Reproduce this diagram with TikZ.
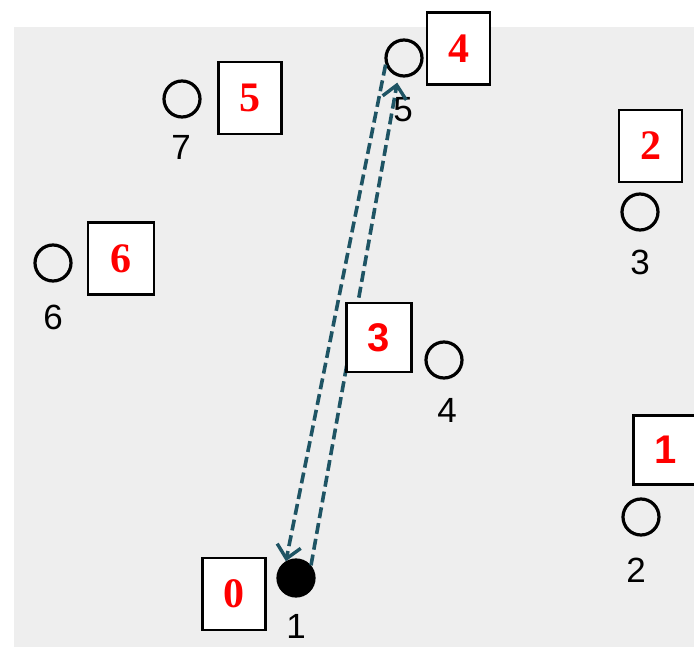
\documentclass[tikz,border=0pt]{standalone}
\usepackage{fontspec}
\setmainfont{Liberation Serif}
\setsansfont{Liberation Sans}
\usetikzlibrary{arrows.meta}
\definecolor{bgpaper}{RGB}{238,238,238}
\definecolor{teal2}{RGB}{30,84,100}
\tikzset{
  pt/.style={circle, draw=black, line width=3.2pt, minimum size=36pt, inner sep=0pt},
  ptfill/.style={pt, fill=black},
  tag/.style={draw=black, line width=2.2pt, fill=white, minimum width=63pt, minimum height=72pt, inner sep=0pt,
    text=red, font=\fontsize{42}{42}\selectfont\bfseries},
  tagsans/.style={tag, font=\fontsize{40}{40}\selectfont\sffamily\bfseries},
  lbl/.style={inner sep=0pt, font=\fontsize{35}{35}\selectfont\sffamily},
  route/.style={draw=teal2, line width=3.6pt, dash pattern=on 11pt off 5pt,
    -{Straight Barb[length=13pt,width=24pt,line width=3.4pt]}}
}
\begin{document}
\begin{tikzpicture}[x=1pt,y=-1pt]
\useasboundingbox (0,0) rectangle (694,647);
\fill[bgpaper] (14,27) rectangle (694,647);
% points
\node[pt] (c5) at (404,58) {};
\node[pt] (c7) at (182,99) {};
\node[pt] (c3) at (640,212) {};
\node[pt] (c6) at (53,263) {};
\node[pt] (c4) at (444,360) {};
\node[pt] (c2) at (641,517) {};
\node[ptfill] (c1) at (296,578) {};
% labels
\node[lbl] (l5) at (403,110) {5};
\node[lbl] (l7) at (181,147) {7};
\node[lbl] (l3) at (640,262) {3};
\node[lbl] (l6) at (53,317) {6};
\node[lbl] (l4) at (447,410) {4};
\node[lbl] (l2) at (636,570) {2};
\node[lbl] (l1) at (296,626) {1};
% tags
\node[tag] (b4) at (458.5,48.5) {4};
\node[tag] (b5) at (250,98) {5};
\node[tag] (b2) at (650.5,146) {2};
\node[tag, minimum width=66pt] (b6) at (121,258.5) {6};
\node[tagsans, minimum width=65pt, minimum height=69pt] (b1x) at (666,450) {1};
\node[tag] (b0) at (234,594) {0};
% routes
\draw[route] (c5.200) -- (c1.121);
\draw[route, shorten >=6pt] (c1.40) -- (c5.253);
\node[tagsans, minimum width=65pt, minimum height=69pt] (b3) at (379,337.5) {3};
\end{tikzpicture}
\end{document}
